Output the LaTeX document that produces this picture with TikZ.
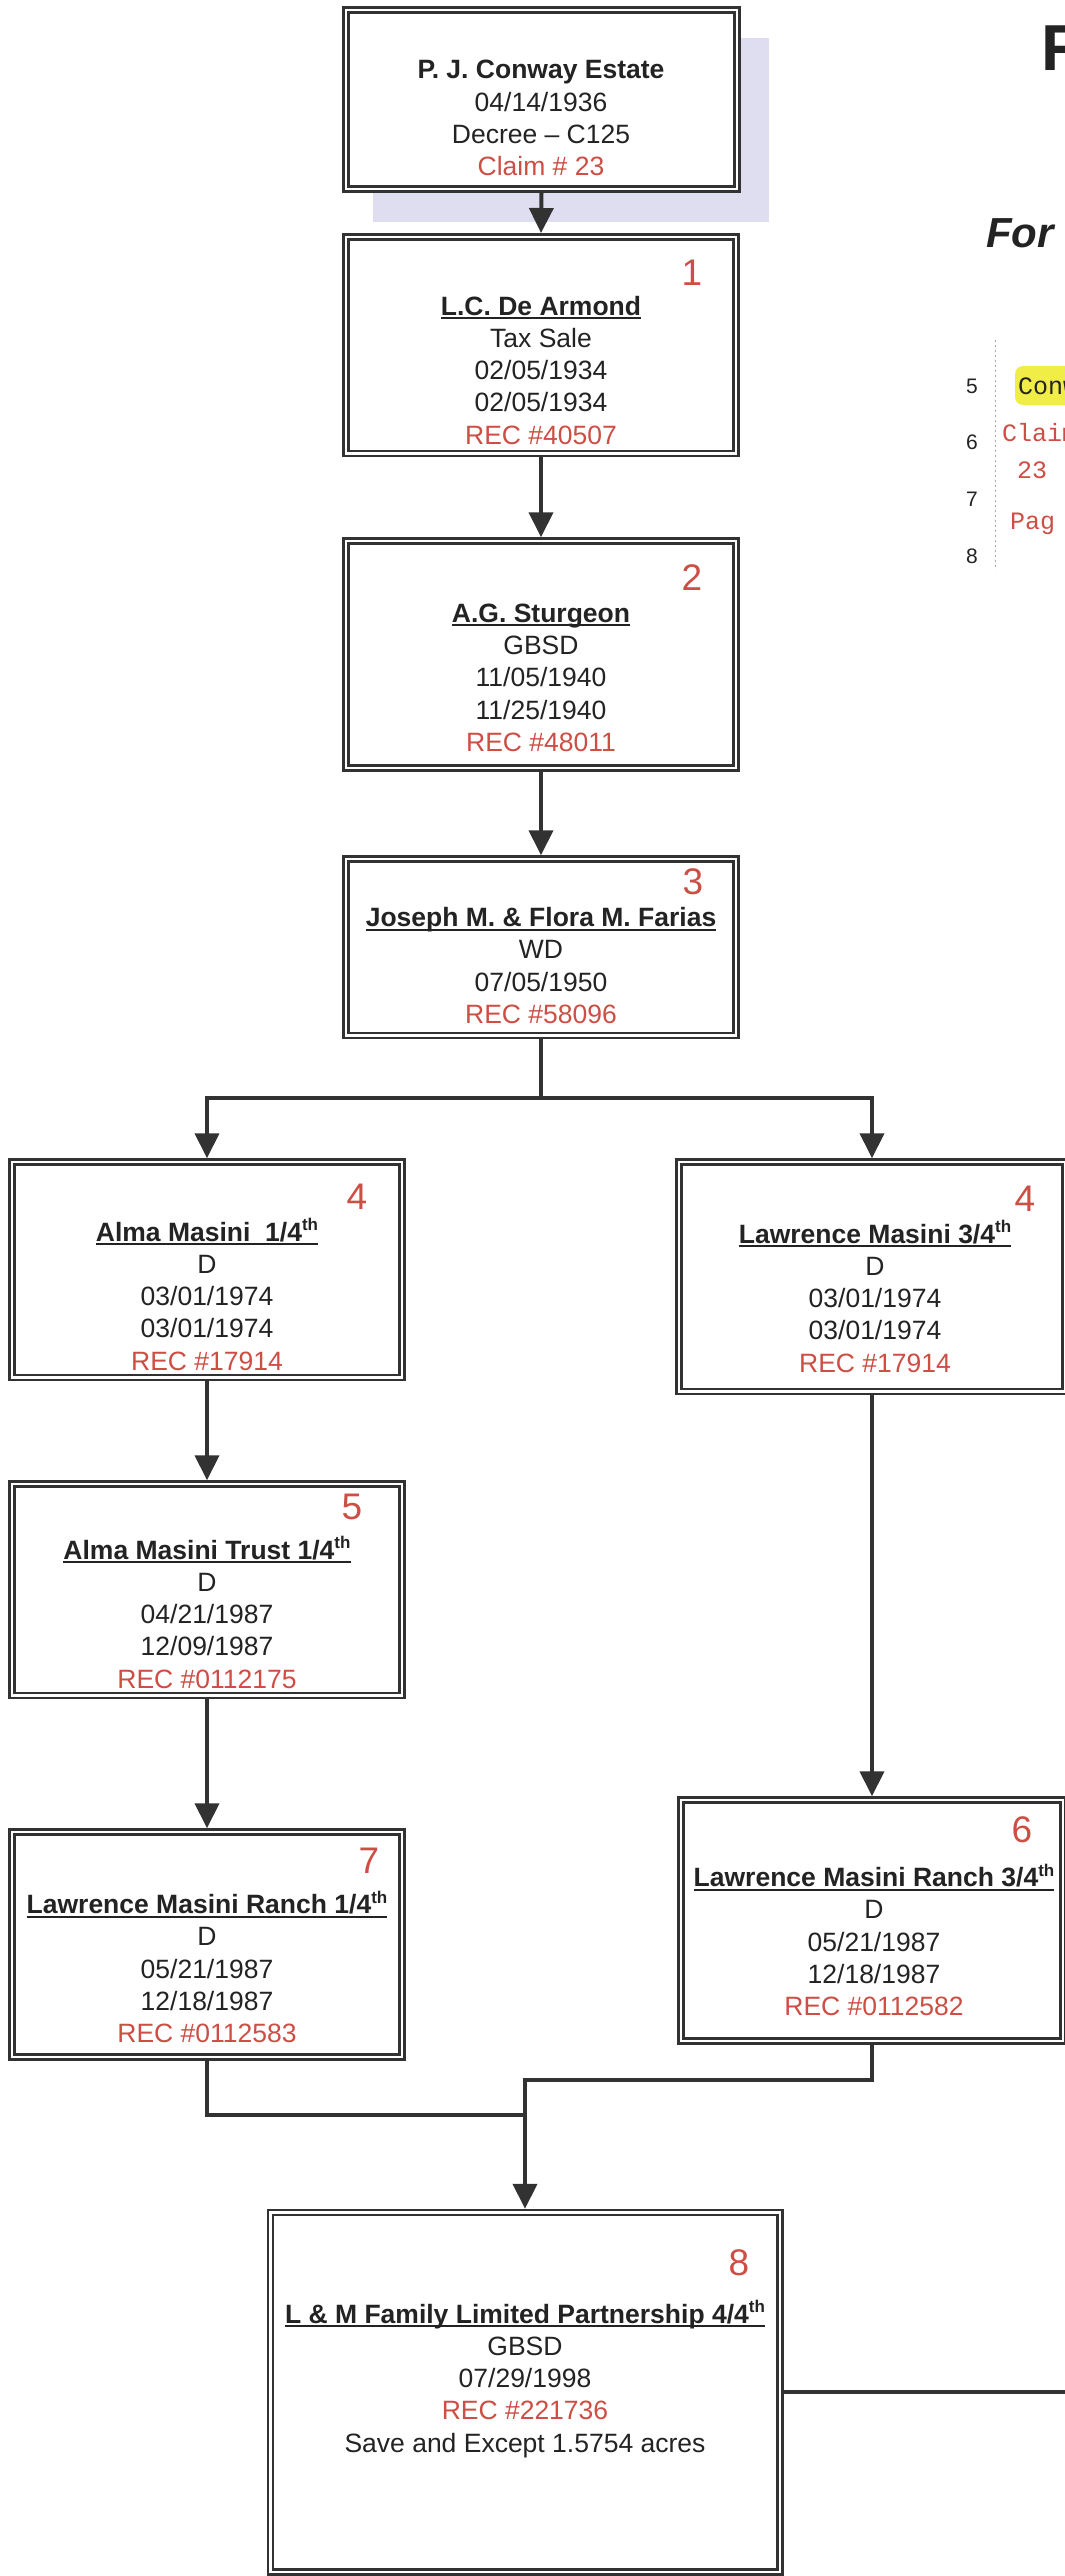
\documentclass[tikz,border=0pt]{standalone}
\usepackage{fontspec}
\setmainfont{Liberation Sans}
\newfontfamily\monofam{Liberation Mono}
\usetikzlibrary{arrows.meta}
\definecolor{ink}{RGB}{35,35,35}
\definecolor{redink}{RGB}{205,78,68}
\definecolor{linec}{RGB}{50,50,50}
\definecolor{shadowc}{RGB}{222,222,240}
\definecolor{hilite}{RGB}{240,238,70}
\newcommand\myul[1]{\setbox0=\hbox{#1}\rlap{\rule[-4pt]{\wd0}{2pt}}\box0}
\newcommand\thsup{\smash{\raisebox{10.5pt}{\fontsize{17}{17}\selectfont th}}}
\newcommand\rd[1]{\textcolor{redink}{#1}}
\begin{document}
\begin{tikzpicture}[x=1pt,y=-1pt,
  tbox/.style={draw=linec, line width=2.5pt, double=white, double distance=2.5pt, inner sep=0pt, outer sep=3.75pt, fill=white},
  body/.style={font=\fontsize{26.5}{32.3}\selectfont, text=ink, align=center, inner sep=0pt, text depth=0pt},
  num/.style={font=\fontsize{37}{37}\selectfont, text=redink, inner sep=0pt},
  conn/.style={draw=linec, line width=4pt},
  arr/.style={conn, -{Triangle[width=24pt,length=25pt]}},
  side/.style={inner sep=0pt, text=ink},
]
\fill[white] (0,0) rectangle (1065,2576);
\useasboundingbox (0,0) rectangle (1065,2576);
\clip (0,0) rectangle (1065,2576);

% shadow of the top box
\fill[shadowc] (373,38) rectangle (769,222);

% boxes
\node[tbox, minimum width=391pt, minimum height=179pt] (b0) at (541.5,99.5) {};
\node[tbox, minimum width=390pt, minimum height=216.5pt] (b1) at (541,345) {};
\node[tbox, minimum width=390pt, minimum height=227pt] (b2) at (541,654.5) {};
\node[tbox, minimum width=390pt, minimum height=176.5pt] (b3) at (541,947.25) {};
\node[tbox, minimum width=390pt, minimum height=215.5pt] (b4l) at (207,1269.75) {};
\node[tbox, minimum width=386pt, minimum height=229.5pt] (b4r) at (872,1276.75) {};
\node[tbox, minimum width=390pt, minimum height=211.5pt] (b5) at (207,1589.75) {};
\node[tbox, minimum width=382pt, minimum height=241pt] (b6) at (872,1920.5) {};
\node[tbox, minimum width=390pt, minimum height=225pt] (b7) at (207,1944.5) {};
\node[tbox, minimum width=509.5pt, minimum height=359.5pt] (b8) at (525,2392.25) {};

% texts
\node[body] (t0) at (541,118) {\textbf{P. J. Conway Estate}\\04/14/1936\\Decree – C125\\\rd{Claim \# 23}};
\node[body] (t1) at (541,370) {\textbf{\myul{L.C. De Armond}}\\Tax Sale\\02/05/1934\\02/05/1934\\\rd{REC \#40507}};
\node[body] (t2) at (541,677.5) {\textbf{\myul{A.G. Sturgeon}}\\GBSD\\11/05/1940\\11/25/1940\\\rd{REC \#48011}};
\node[body] (t3) at (541,965.5) {\textbf{\myul{Joseph M. \& Flora M. Farias}}\\WD\\07/05/1950\\\rd{REC \#58096}};
\node[body] (t4l) at (207,1296) {\textbf{\myul{Alma Masini\ \ 1/4\thsup}}\\D\\03/01/1974\\03/01/1974\\\rd{REC \#17914}};
\node[body] (t4r) at (875,1298) {\textbf{\myul{Lawrence Masini 3/4\thsup}}\\D\\03/01/1974\\03/01/1974\\\rd{REC \#17914}};
\node[body] (t5) at (207,1614) {\textbf{\myul{Alma Masini Trust 1/4\thsup}}\\D\\04/21/1987\\12/09/1987\\\rd{REC \#0112175}};
\node[body] (t6) at (874,1941.5) {\textbf{\myul{Lawrence Masini Ranch 3/4\thsup}}\\D\\05/21/1987\\12/18/1987\\\rd{REC \#0112582}};
\node[body] (t7) at (207,1968.5) {\textbf{\myul{Lawrence Masini Ranch 1/4\thsup}}\\D\\05/21/1987\\12/18/1987\\\rd{REC \#0112583}};
\node[body] (t8) at (525,2378) {\textbf{\myul{L \& M Family Limited Partnership 4/4\thsup}}\\GBSD\\07/29/1998\\\rd{REC \#221736}\\Save and Except 1.5754 acres};

% numbers
\node[num] (n1) at (692,273) {1};
\node[num] (n2) at (692,578) {2};
\node[num] (n3) at (693,882) {3};
\node[num] (n4l) at (357,1197) {4};
\node[num] (n4r) at (1025,1199) {4};
\node[num] (n5) at (352,1507) {5};
\node[num] (n6) at (1022,1830) {6};
\node[num] (n7) at (369,1861) {7};
\node[num] (n8) at (739,2263) {8};

% junctions
\coordinate (j1) at (541,1098);
\coordinate (j2) at (525,2115);
\coordinate (j3) at (525,2080);
\coordinate (redge) at (1075,2392.25);

% connectors
\draw[arr] (b0.south) -- (b1.north);
\draw[arr] (b1.south) -- (b2.north);
\draw[arr] (b2.south) -- (b3.north);
\draw[conn] (b3.south) -- (j1);
\draw[arr] (j1) -| (b4l.north);
\draw[arr] (j1) -| (b4r.north);
\draw[arr] (b4l.south) -- (b5.north);
\draw[arr] (b5.south) -- (b7.north);
\draw[arr] (b4r.south) -- (b6.north);
\draw[conn] (b7.south) |- (j2);
\draw[conn] (b6.south) |- (j3) -- (j2);
\draw[arr] (j2) -- (b8.north);
\draw[conn] (b8.east) -- (redge);

% right-hand fragments
\node[side, font=\bfseries\fontsize{65}{65}\selectfont, anchor=base west] (ttl) at (1041,70) {R};
\node[side, font=\bfseries\itshape\fontsize{42}{42}\selectfont, anchor=base west] (forw) at (986,247) {For};
\draw[gray!70, line width=1pt, dash pattern=on 2pt off 3pt] (995,340) -- (995,570);
\node[side, font=\fontsize{21}{21}\selectfont] (l5) at (972,386) {5};
\node[side, font=\fontsize{21}{21}\selectfont] (l6) at (972,442) {6};
\node[side, font=\fontsize{21}{21}\selectfont] (l7) at (972,499) {7};
\node[side, font=\fontsize{21}{21}\selectfont] (l8) at (972,556) {8};
\fill[hilite, rounded corners=8pt] (1015,366) rectangle (1085,405);
\node[side, font=\monofam\fontsize{25}{25}\selectfont, anchor=west] (cw) at (1018,386) {Conw};
\node[side, font=\monofam\fontsize{25}{25}\selectfont, text=redink, anchor=west] (cl) at (1002,433) {Claim};
\node[side, font=\monofam\fontsize{25}{25}\selectfont, text=redink, anchor=west] (c23) at (1017,470) {23};
\node[side, font=\monofam\fontsize{25}{25}\selectfont, text=redink, anchor=base west] (pg) at (1010,529) {Pag};
\end{tikzpicture}
\end{document}
